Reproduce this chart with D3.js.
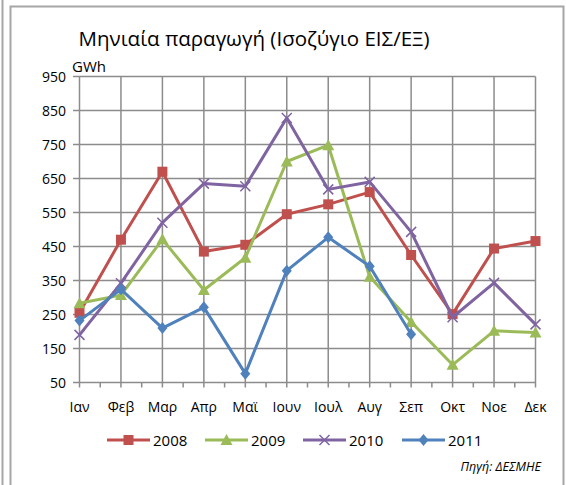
<!DOCTYPE html>
<html>
<head>
<meta charset="utf-8">
<script src="https://cdn.jsdelivr.net/npm/d3@7"></script>
<style>
  body { margin: 0; background: #fff; }
  svg { display: block; font-family: "Open Sans", "DejaVu Sans", sans-serif; }
</style>
</head>
<body>
<div id="vis"></div>
<script>
// months (category axis)
var months = ['Ιαν', 'Φεβ', 'Μαρ', 'Απρ', 'Μαϊ', 'Ιουν', 'Ιουλ', 'Αυγ', 'Σεπ', 'Οκτ', 'Νοε', 'Δεκ'];
var years = ['2008', '2009', '2010', '2011'];

// GWh per month
var v2008 = [255, 470, 670, 435, 455, 545, 574, 610, 425, 251, 444, 466];
var v2009 = [283, 307, 471, 322, 417, 700, 748, 361, 228, 102, 202, 197];
var v2010 = [190, 342, 520, 635, 627, 828, 618, 640, 493, 242, 343, 221];
var v2011 = [232, 324, 210, 271, 76, 379, 477, 392, 192];

var yTicks = [50, 150, 250, 350, 450, 550, 650, 750, 850, 950];

var colors = ['#C0504D', '#9BBB59', '#8064A2', '#4F81BD'];
var shapes = ['square', 'triangle', 'cross', 'diamond'];
var allSeries = [v2008, v2009, v2010, v2011];

var W = 566, H = 485;
var svg = d3.select('#vis').append('svg')
    .attr('width', W)
    .attr('height', H);

// outer frames
svg.append('line').attr('x1', 2.5).attr('x2', 2.5).attr('y1', 0).attr('y2', H)
    .attr('stroke', '#a6a6a6').attr('stroke-width', 2);
svg.append('path')
    .attr('d', 'M10.5,' + H + ' V6.5 H563.5 V' + H)
    .attr('fill', 'none').attr('stroke', '#a6a6a6').attr('stroke-width', 2);

var x = d3.scalePoint().domain(months).range([79.5, 535.5]);
var y = d3.scaleLinear().domain([50, 950]).range([382.5, 76.5]);

var grid = svg.append('g').attr('stroke', '#8c8c8c').attr('stroke-width', 1.5);

// horizontal gridlines (extend left as tick marks)
grid.selectAll('.hg').data(yTicks).enter().append('line')
    .attr('x1', 73).attr('x2', x.range()[1])
    .attr('y1', function (d) { return y(d); })
    .attr('y2', function (d) { return y(d); });

// vertical gridlines (extend down as tick marks)
grid.selectAll('.vg').data(months).enter().append('line')
    .attr('x1', function (d) { return x(d); })
    .attr('x2', function (d) { return x(d); })
    .attr('y1', y(950)).attr('y2', y(50) + 5);

// minor ticks between months
var step = x.step();
grid.selectAll('.mt').data(months.slice(1)).enter().append('line')
    .attr('x1', function (d) { return x(d) - step / 2; })
    .attr('x2', function (d) { return x(d) - step / 2; })
    .attr('y1', y(50)).attr('y2', y(50) + 5);

// y tick labels
svg.append('g').selectAll('text').data(yTicks).enter().append('text')
    .attr('x', 66).attr('y', function (d) { return y(d) + 5; })
    .attr('text-anchor', 'end')
    .attr('font-size', 14).attr('fill', '#000')
    .text(function (d) { return d; });

// x tick labels
svg.append('g').selectAll('text').data(months).enter().append('text')
    .attr('x', function (d) { return x(d); }).attr('y', 412)
    .attr('text-anchor', 'middle')
    .attr('font-size', 14).attr('fill', '#000')
    .text(function (d) { return d; });

// title and unit
svg.append('text').attr('x', 254).attr('y', 46)
    .attr('text-anchor', 'middle').attr('font-size', 20.5).attr('fill', '#000')
    .text('Μηνιαία παραγωγή (Ισοζύγιο ΕΙΣ/ΕΞ)');
svg.append('text').attr('x', 72).attr('y', 72)
    .attr('font-size', 15).attr('fill', '#000').text('GWh');

function marker(sel, shape, color) {
    if (shape === 'square') {
        sel.append('rect').attr('x', -5).attr('y', -5).attr('width', 10).attr('height', 10)
            .attr('fill', color);
    } else if (shape === 'triangle') {
        sel.append('path').attr('d', 'M0,-6 L6,5 L-6,5 Z').attr('fill', color);
    } else if (shape === 'cross') {
        sel.append('path').attr('d', 'M-5,-5 L5,5 M-5,5 L5,-5')
            .attr('stroke', color).attr('stroke-width', 1.5).attr('fill', 'none');
    } else {
        sel.append('path').attr('d', 'M0,-6 L5,0 L0,6 L-5,0 Z').attr('fill', color);
    }
}

var line = d3.line()
    .x(function (d, i) { return x(months[i]); })
    .y(function (d) { return y(d); });

allSeries.forEach(function (vals, k) {
    var g = svg.append('g');
    g.append('path').datum(vals)
        .attr('d', line)
        .attr('fill', 'none')
        .attr('stroke', colors[k])
        .attr('stroke-width', 3)
        .attr('stroke-linejoin', 'round');
    g.selectAll('.m').data(vals).enter().append('g')
        .attr('transform', function (d, i) { return 'translate(' + x(months[i]) + ',' + y(d) + ')'; })
        .each(function () { marker(d3.select(this), shapes[k], colors[k]); });
});

// legend
var legendX = [107, 205, 303, 402];
years.forEach(function (yr, k) {
    var g = svg.append('g').attr('transform', 'translate(' + legendX[k] + ',440)');
    g.append('line').attr('x1', 0).attr('x2', 43).attr('y1', 0).attr('y2', 0)
        .attr('stroke', colors[k]).attr('stroke-width', 3);
    var m = g.append('g').attr('transform', 'translate(21.5,0)');
    marker(m, shapes[k], colors[k]);
    g.append('text').attr('x', 46).attr('y', 5.5)
        .attr('font-size', 15).attr('fill', '#000').text(yr);
});

svg.append('text').attr('x', 541).attr('y', 471)
    .attr('text-anchor', 'end').attr('font-size', 12.5).attr('font-style', 'italic')
    .attr('fill', '#000').text('Πηγή: ΔΕΣΜΗΕ');
</script>
</body>
</html>
